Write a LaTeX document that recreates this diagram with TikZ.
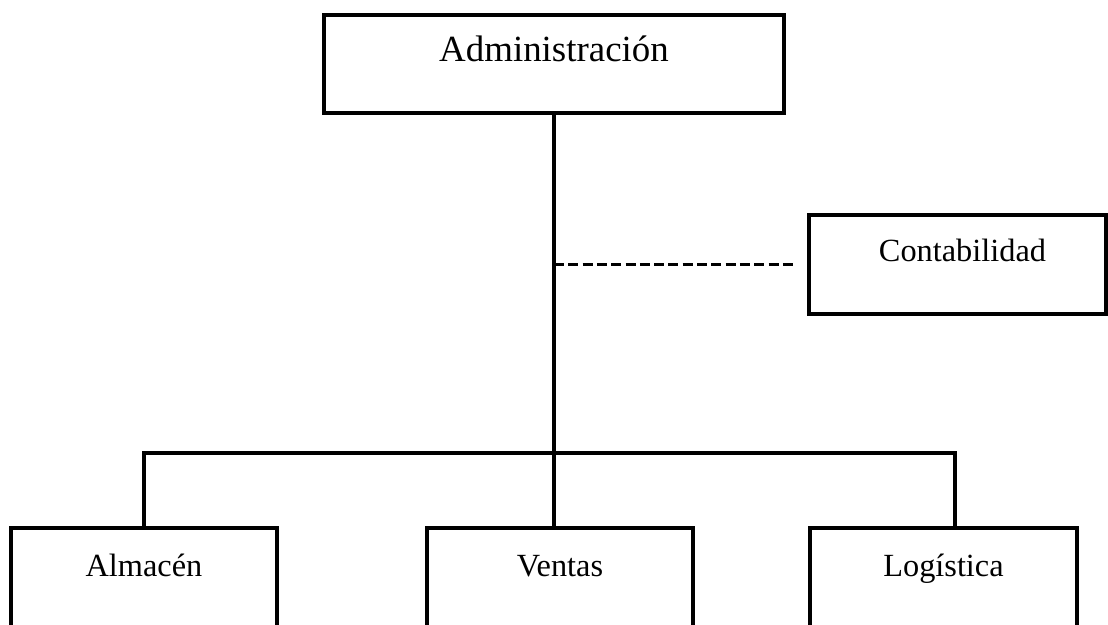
\documentclass[tikz,border=0pt]{standalone}
\usepackage{fontspec}
\setmainfont{Liberation Serif}
\usepackage{tikz}

\begin{document}
\begin{tikzpicture}[box/.style={draw, line width=1.8pt, minimum height=1.98cm, minimum width=5.32cm},
  unit box/.style={box, minimum height=3cm},
  box label/.style={anchor=base, font=\fontsize{18.4}{21}\selectfont},
  link/.style={line width=2.1pt}]
\clip (0,0) rectangle (22.16,-12.5);

\node[box, minimum width=9.2cm, minimum height=1.96cm] (administracion box) at (11.08,-1.28) {};
\node[box label, font=\fontsize{21}{24}\selectfont] (administracion label) at ([yshift=-0.96cm]administracion box.north) {Administración};

\node[box, minimum width=5.94cm] (contabilidad box) at (19.15,-5.29) {};
\node[box label] (contabilidad label) at ([xshift=0.1cm, yshift=-0.96cm]contabilidad box.north) {Contabilidad};

\node[unit box] (almacen box) at (2.88,-12.06) {};
\node[box label] (almacen label) at ([yshift=-1cm]almacen box.north) {Almacén};

\node[unit box] (ventas box) at (11.2,-12.06) {};
\node[box label] (ventas label) at ([yshift=-1cm]ventas box.north) {Ventas};

\node[unit box, minimum width=5.34cm] (logistica box) at (18.87,-12.06) {};
\node[box label] (logistica label) at ([yshift=-1cm]logistica box.north) {Logística};

\coordinate (bus) at (11.06,-9.06);

\draw[link] (administracion box.south) -- (administracion box.south |- ventas box.north);

\draw[link] (almacen box.north) |- (bus) -| ([xshift=0.23cm]logistica box.north);

\draw[link, dash pattern=on 0.2cm off 0.086cm] (administracion box.south |- contabilidad box.west) -- ([xshift=-0.22cm]contabilidad box.west);
\end{tikzpicture}
\end{document}
